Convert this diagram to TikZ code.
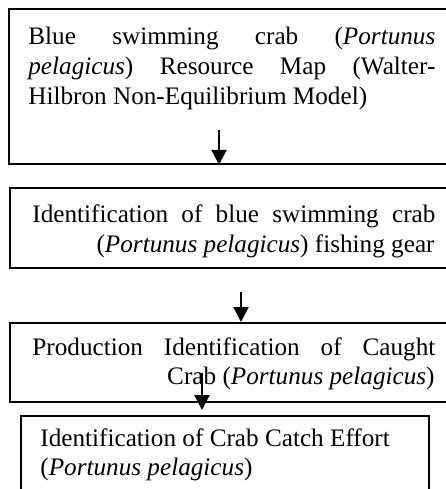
\documentclass[tikz,border=0pt]{standalone}
\usepackage{fontspec}
\setmainfont{Liberation Serif}
\usetikzlibrary{arrows.meta}

\tikzset{
  stage/.style={draw, line width=0.9pt, anchor=north west, inner sep=0pt},
  line/.style={inner sep=0pt, font=\fontsize{12.6}{15}\selectfont},
  flow/.style={-{Triangle[width=7.5pt,length=7.5pt]}, line width=1.1pt}
}

\begin{document}
\begin{tikzpicture}[x=0.5pt, y=-0.5pt]
    \useasboundingbox (0,0) rectangle (446,489);
    \clip (0,0) rectangle (446,489);

    % draw the four boxes (right side runs off the page)
        \node[stage, minimum width=223.5pt, minimum height=77.5pt] (map) at (8,8) {};
        \node[stage, minimum width=223pt, minimum height=40pt] (gear) at (9,187) {};
        \node[stage, minimum width=223pt, minimum height=39.5pt] (prod) at (9,322) {};
        \node[stage, minimum width=204pt, minimum height=60pt] (effort) at (20,415) {};

    % text of the resource map box
        \node[line, anchor=base west] (mapA) at (28,44) {\makebox[203.5pt][s]{Blue swimming crab (\textit{Portunus}}};
        \node[line, anchor=base west] (mapB) at (28,74) {\makebox[203.5pt][s]{\textit{pelagicus}) Resource Map (Walter-}};
        \node[line, anchor=base west] (mapC) at (28,104) {Hilbron Non-Equilibrium Model)};

    % text of the fishing gear box
        \node[line, anchor=base west] (gearA) at (32,222) {\makebox[201.5pt][s]{Identification of blue swimming crab}};
        \node[line, anchor=base east] (gearB) at (435,252) {(\textit{Portunus pelagicus}) fishing gear};

    % text of the production box
        \node[line, anchor=base west] (prodA) at (32,355) {\makebox[201.5pt][s]{Production Identification of Caught}};
        \node[line, anchor=base east] (prodB) at (435,384) {Crab (\textit{Portunus pelagicus})};

    % text of the catch effort box
        \node[line, anchor=base west] (effortA) at (40,446) {Identification of Crab Catch Effort};
        \node[line, anchor=base west] (effortB) at (40,475) {(\textit{Portunus pelagicus})};

    % arrows
        \coordinate (a1) at (219,130);
        \coordinate (a2) at (241,292);
        \coordinate (a3) at (202,373);
        \coordinate (a3end) at (202,410);
        \draw[flow] (a1) -- (a1 |- map.south);
        \draw[flow] (a2) -- (a2 |- prod.north);
        \draw[flow] (a3) -- (a3end);

\end{tikzpicture}
\end{document}
